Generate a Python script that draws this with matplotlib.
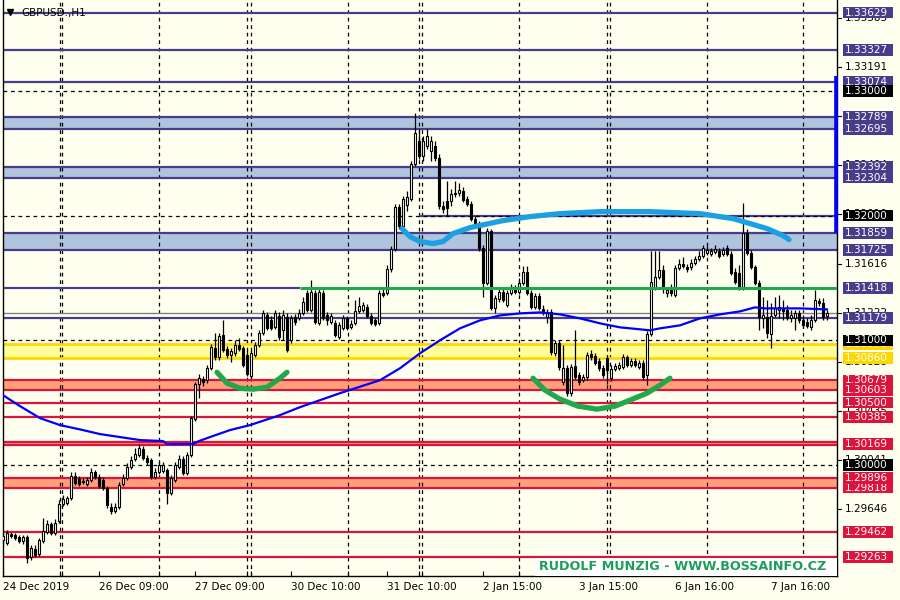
import matplotlib
matplotlib.use('Agg')
import matplotlib.pyplot as plt
import numpy as np
from matplotlib.transforms import blended_transform_factory
from matplotlib.patches import Rectangle

# ---------------- DATA ----------------
opens = [1.29400, 1.29376, 1.29448, 1.29440, 1.29424, 1.29392, 1.29424, 1.29264, 1.29328, 1.29288,
         1.29392, 1.29464, 1.29528, 1.29456, 1.29552, 1.29688, 1.29696, 1.29736, 1.29912, 1.29888,
         1.29872, 1.29848, 1.29880, 1.29944, 1.29904, 1.29880, 1.29816, 1.29664, 1.29632, 1.29664,
         1.29848, 1.29896, 1.29984, 1.30048, 1.30080, 1.30128, 1.30056, 1.30040, 1.29904, 1.29944,
         1.29952, 1.29960, 1.29776, 1.29880, 1.29984, 1.30048, 1.29936, 1.30080, 1.30368, 1.30648,
         1.30688, 1.30680, 1.30776, 1.30936, 1.30864, 1.31040, 1.30928, 1.30880, 1.30896, 1.30960,
         1.30936, 1.30880, 1.30712, 1.30880, 1.30960, 1.31056, 1.31200, 1.31160, 1.31104, 1.31192,
         1.31080, 1.31184, 1.31000, 1.31184, 1.31176, 1.31216, 1.31376, 1.31240, 1.31376, 1.31136,
         1.31376, 1.31200, 1.31144, 1.31136, 1.31024, 1.31096, 1.31176, 1.31104, 1.31136, 1.31232,
         1.31240, 1.31264, 1.31192, 1.31160, 1.31136, 1.31376, 1.31376, 1.31568, 1.31736, 1.32072,
         1.31920, 1.32088, 1.32136, 1.32416, 1.32600, 1.32480, 1.32560, 1.32520, 1.32560, 1.32464,
         1.32080, 1.32120, 1.32120, 1.32176, 1.32184, 1.32200, 1.32136, 1.32096, 1.31976, 1.31944,
         1.31744, 1.31456, 1.31880, 1.31256, 1.31328, 1.31384, 1.31280, 1.31376, 1.31416, 1.31384,
         1.31456, 1.31544, 1.31376, 1.31264, 1.31352, 1.31248, 1.31184, 1.31224, 1.30896, 1.30976,
         1.30664, 1.30776, 1.30576, 1.30792, 1.30720, 1.30680, 1.30704, 1.30888, 1.30872, 1.30832,
         1.30776, 1.30856, 1.30696, 1.30768, 1.30776, 1.30784, 1.30864, 1.30800, 1.30832, 1.30784,
         1.30816, 1.30720, 1.31048, 1.31416, 1.31504, 1.31560, 1.31376, 1.31416, 1.31360, 1.31576,
         1.31616, 1.31584, 1.31584, 1.31624, 1.31656, 1.31680, 1.31704, 1.31696, 1.31712, 1.31720,
         1.31696, 1.31744, 1.31696, 1.31544, 1.31536, 1.31424, 1.31864, 1.31704, 1.31584, 1.31456,
         1.31176, 1.31184, 1.31048, 1.31200, 1.31240, 1.31256, 1.31240, 1.31176, 1.31176, 1.31216,
         1.31160, 1.31144, 1.31104, 1.31160, 1.31312, 1.31296, 1.31192]

closes = [1.29432, 1.29456, 1.29432, 1.29416, 1.29392, 1.29424, 1.29256, 1.29336, 1.29280, 1.29400,
          1.29472, 1.29528, 1.29456, 1.29536, 1.29688, 1.29728, 1.29736, 1.29912, 1.29856, 1.29848,
          1.29864, 1.29880, 1.29944, 1.29904, 1.29832, 1.29816, 1.29680, 1.29632, 1.29664, 1.29840,
          1.29896, 1.29984, 1.30040, 1.30088, 1.30136, 1.30056, 1.30024, 1.29904, 1.29944, 1.30000,
          1.30000, 1.29776, 1.29896, 1.30000, 1.30048, 1.29936, 1.30080, 1.30376, 1.30648, 1.30696,
          1.30664, 1.30776, 1.30944, 1.30864, 1.31032, 1.30920, 1.30880, 1.30912, 1.30960, 1.30928,
          1.30800, 1.30728, 1.30896, 1.30960, 1.31056, 1.31216, 1.31096, 1.31096, 1.31216, 1.31024,
          1.31200, 1.30920, 1.31176, 1.31144, 1.31216, 1.31304, 1.31240, 1.31384, 1.31144, 1.31384,
          1.31176, 1.31160, 1.31192, 1.31040, 1.31120, 1.31176, 1.31096, 1.31128, 1.31232, 1.31272,
          1.31280, 1.31192, 1.31136, 1.31128, 1.31376, 1.31360, 1.31568, 1.31736, 1.32072, 1.31920,
          1.32136, 1.32152, 1.32416, 1.32664, 1.32480, 1.32600, 1.32640, 1.32600, 1.32464, 1.32080,
          1.32056, 1.32064, 1.32176, 1.32184, 1.32208, 1.32128, 1.32096, 1.31976, 1.31936, 1.31744,
          1.31456, 1.31880, 1.31256, 1.31336, 1.31384, 1.31320, 1.31376, 1.31416, 1.31384, 1.31456,
          1.31544, 1.31376, 1.31264, 1.31352, 1.31256, 1.31216, 1.31224, 1.30904, 1.30976, 1.30784,
          1.30776, 1.30576, 1.30784, 1.30704, 1.30664, 1.30704, 1.30880, 1.30864, 1.30816, 1.30776,
          1.30720, 1.30760, 1.30768, 1.30792, 1.30800, 1.30864, 1.30800, 1.30832, 1.30800, 1.30816,
          1.30704, 1.31048, 1.31464, 1.31504, 1.31560, 1.31416, 1.31400, 1.31376, 1.31576, 1.31616,
          1.31592, 1.31568, 1.31624, 1.31656, 1.31680, 1.31744, 1.31728, 1.31720, 1.31736, 1.31680,
          1.31728, 1.31696, 1.31536, 1.31464, 1.31424, 1.31864, 1.31704, 1.31584, 1.31456, 1.31184,
          1.31200, 1.31056, 1.31192, 1.31256, 1.31264, 1.31232, 1.31176, 1.31200, 1.31216, 1.31160,
          1.31120, 1.31112, 1.31160, 1.31320, 1.31296, 1.31184, 1.31216]

highs = [1.29456, 1.29480, 1.29464, 1.29456, 1.29440, 1.29440, 1.29440, 1.29360, 1.29360, 1.29416,
         1.29576, 1.29560, 1.29544, 1.29568, 1.29720, 1.29760, 1.29752, 1.29944, 1.29944, 1.29912,
         1.29896, 1.29904, 1.29976, 1.29960, 1.29928, 1.29904, 1.29832, 1.29696, 1.29696, 1.29864,
         1.29928, 1.30016, 1.30072, 1.30136, 1.30168, 1.30152, 1.30080, 1.30056, 1.29976, 1.30024,
         1.30024, 1.29976, 1.29920, 1.30024, 1.30080, 1.30072, 1.30104, 1.30392, 1.30664, 1.30728,
         1.30712, 1.30800, 1.30968, 1.31056, 1.31056, 1.31160, 1.30952, 1.30936, 1.31000, 1.31016,
         1.30952, 1.30920, 1.30920, 1.30984, 1.31080, 1.31240, 1.31224, 1.31192, 1.31240, 1.31224,
         1.31240, 1.31216, 1.31200, 1.31208, 1.31248, 1.31344, 1.31400, 1.31480, 1.31400, 1.31416,
         1.31400, 1.31224, 1.31216, 1.31160, 1.31144, 1.31200, 1.31192, 1.31160, 1.31320, 1.31344,
         1.31304, 1.31288, 1.31216, 1.31176, 1.31400, 1.31416, 1.31600, 1.31760, 1.32096, 1.32096,
         1.32160, 1.32200, 1.32440, 1.32824, 1.32696, 1.32640, 1.32696, 1.32640, 1.32600, 1.32496,
         1.32120, 1.32280, 1.32216, 1.32280, 1.32264, 1.32232, 1.32160, 1.32120, 1.32000, 1.31960,
         1.31768, 1.31904, 1.31896, 1.31360, 1.31416, 1.31416, 1.31400, 1.31448, 1.31440, 1.31496,
         1.31592, 1.31592, 1.31400, 1.31376, 1.31376, 1.31280, 1.31248, 1.31248, 1.31000, 1.31000,
         1.30960, 1.30800, 1.30808, 1.31080, 1.30744, 1.30728, 1.30904, 1.30920, 1.30896, 1.30856,
         1.30800, 1.30880, 1.30800, 1.30816, 1.30824, 1.30888, 1.30880, 1.30856, 1.30856, 1.30840,
         1.30840, 1.31072, 1.31720, 1.31720, 1.31720, 1.31600, 1.31424, 1.31448, 1.31600, 1.31656,
         1.31672, 1.31616, 1.31656, 1.31680, 1.31720, 1.31768, 1.31760, 1.31744, 1.31768, 1.31744,
         1.31752, 1.31768, 1.31720, 1.31576, 1.31600, 1.32104, 1.31896, 1.31728, 1.31608, 1.31480,
         1.31344, 1.31320, 1.31296, 1.31344, 1.31360, 1.31320, 1.31280, 1.31240, 1.31240, 1.31240,
         1.31200, 1.31176, 1.31200, 1.31400, 1.31336, 1.31336, 1.31240]

lows = [1.29376, 1.29360, 1.29416, 1.29400, 1.29376, 1.29368, 1.29216, 1.29240, 1.29264, 1.29272,
        1.29376, 1.29448, 1.29440, 1.29440, 1.29536, 1.29672, 1.29680, 1.29720, 1.29840, 1.29832,
        1.29848, 1.29832, 1.29864, 1.29888, 1.29816, 1.29800, 1.29656, 1.29608, 1.29616, 1.29648,
        1.29832, 1.29880, 1.29968, 1.30032, 1.30064, 1.30040, 1.30000, 1.29888, 1.29888, 1.29928,
        1.29936, 1.29688, 1.29760, 1.29864, 1.29968, 1.29920, 1.29920, 1.30064, 1.30352, 1.30536,
        1.30632, 1.30656, 1.30760, 1.30840, 1.30840, 1.30904, 1.30856, 1.30824, 1.30872, 1.30912,
        1.30784, 1.30712, 1.30696, 1.30864, 1.30944, 1.31040, 1.31080, 1.31080, 1.31088, 1.31000,
        1.31000, 1.30904, 1.30976, 1.31120, 1.31160, 1.31200, 1.31224, 1.31224, 1.31128, 1.31120,
        1.31160, 1.31120, 1.31128, 1.31024, 1.31008, 1.31080, 1.31080, 1.31088, 1.31120, 1.31216,
        1.31224, 1.31176, 1.31120, 1.31112, 1.31120, 1.31344, 1.31360, 1.31544, 1.31720, 1.31896,
        1.31904, 1.32040, 1.32120, 1.32400, 1.32456, 1.32440, 1.32536, 1.32440, 1.32440, 1.32056,
        1.32024, 1.32000, 1.32080, 1.32152, 1.32160, 1.32112, 1.32080, 1.31960, 1.31920, 1.31720,
        1.31344, 1.31440, 1.31240, 1.31216, 1.31304, 1.31304, 1.31264, 1.31360, 1.31368, 1.31368,
        1.31440, 1.31360, 1.31248, 1.31248, 1.31240, 1.31200, 1.31136, 1.30880, 1.30872, 1.30760,
        1.30640, 1.30552, 1.30552, 1.30688, 1.30640, 1.30664, 1.30680, 1.30840, 1.30800, 1.30752,
        1.30696, 1.30648, 1.30672, 1.30752, 1.30760, 1.30768, 1.30784, 1.30784, 1.30784, 1.30768,
        1.30680, 1.30640, 1.31032, 1.31400, 1.31488, 1.31376, 1.31344, 1.31352, 1.31344, 1.31560,
        1.31576, 1.31544, 1.31560, 1.31608, 1.31640, 1.31664, 1.31688, 1.31680, 1.31696, 1.31664,
        1.31680, 1.31680, 1.31520, 1.31448, 1.31400, 1.31400, 1.31688, 1.31568, 1.31440, 1.31080,
        1.31096, 1.31016, 1.30936, 1.31184, 1.31176, 1.31160, 1.31160, 1.31144, 1.31080, 1.31136,
        1.31104, 1.31096, 1.31080, 1.31144, 1.31272, 1.31160, 1.31160]

# moving average
ma_bars = [0, 4.25, 9.25, 14.25, 20, 24.25, 29.25, 34.25, 40, 41, 47.5, 49, 51.75, 56.75, 61.75,
           65.5, 69.25, 74.25, 84.25, 94.25, 99.25, 104.25, 109.25, 114.25, 119.25, 124.25, 129.25,
           134.25, 139.25, 144.25, 149.25, 154.25, 159.25, 161.75, 164.25, 169.25, 174.25, 179.25,
           184.25, 188, 190.5, 199.25, 206]
ma_vals = [1.30560, 1.30472, 1.30376, 1.30320, 1.30280, 1.30248, 1.30224, 1.30200, 1.30192, 1.30168,
           1.30168, 1.30192, 1.30224, 1.30280, 1.30320, 1.30360, 1.30400, 1.30464, 1.30576, 1.30680,
           1.30776, 1.30896, 1.31000, 1.31096, 1.31160, 1.31200, 1.31216, 1.31224, 1.31208, 1.31176,
           1.31136, 1.31104, 1.31088, 1.31080, 1.31096, 1.31120, 1.31176, 1.31208, 1.31232, 1.31264,
           1.31256, 1.31256, 1.31248]

# hand-drawn annotation curves
blue_arc_bars = [99.75, 101.75, 104.25, 107.5, 110, 112.5, 116.75, 125, 131.75, 139.25, 149.25,
                 161.75, 174.25, 182.5, 186.75, 191, 195, 196.5]
blue_arc_vals = [1.31896, 1.31832, 1.31792, 1.31776, 1.31792, 1.31856, 1.31904, 1.31960, 1.31992,
                 1.32016, 1.32032, 1.32032, 1.32016, 1.31976, 1.31936, 1.31896, 1.31840, 1.31808]
green_arc1_bars = [53.5, 56, 59.25, 62.5, 66, 69.25, 71]
green_arc1_vals = [1.30744, 1.30656, 1.30616, 1.30608, 1.30624, 1.30696, 1.30744]
green_arc2_bars = [132.5, 135.5, 139.25, 143.75, 148.5, 153, 156.75, 161, 164.25, 166.75]
green_arc2_vals = [1.30696, 1.30600, 1.30528, 1.30472, 1.30448, 1.30472, 1.30520, 1.30576,
                   1.30640, 1.30696]

# levels
navy_lines = [1.33629, 1.33327, 1.33074, 1.31179]
navy_bands = [(1.32789, 1.32695), (1.32392, 1.32304), (1.31859, 1.31725)]
red_lines = [1.30500, 1.30385, 1.29462, 1.29263]
red_bands = [(1.30679, 1.30603), (1.30182, 1.30158), (1.29896, 1.29818)]
gold_band = (1.30970, 1.30860)
round_levels = [1.33000, 1.32000, 1.31000, 1.30000]
green_level = 1.31418
bid_price = 1.31216

grid_labels = [1.33585, 1.33191, 1.32797, 1.32404, 1.32010, 1.31616, 1.31222,
               1.30828, 1.30435, 1.30041, 1.29646]
# (value, style) in drawing order
price_labels = [(1.33629, 'navy'), (1.33327, 'navy'), (1.33074, 'navy'), (1.33000, 'black'),
                (1.32789, 'navy'), (1.32695, 'navy'), (1.32392, 'navy'), (1.32304, 'navy'),
                (1.32000, 'black'), (1.31859, 'navy'), (1.31725, 'navy'), (1.31418, 'navy'),
                (1.31179, 'navy'), (1.30970, 'gold'), (1.31000, 'black'), (1.30860, 'gold'),
                (1.30679, 'red'), (1.30603, 'red'), (1.30500, 'red'), (1.30385, 'red'),
                (1.30169, 'red'), (1.29818, 'red'), (1.29896, 'red'), (1.30000, 'black'),
                (1.29462, 'red'), (1.29263, 'red')]

time_ticks = [0, 24, 48, 72, 96, 120, 144, 168, 192]
time_labels = ['24 Dec 2019', '26 Dec 09:00', '27 Dec 09:00', '30 Dec 10:00', '31 Dec 10:00',
               '2 Jan 15:00', '3 Jan 15:00', '6 Jan 16:00', '7 Jan 16:00']
separators = [14.25, 14.75, 39, 61, 62, 86.25, 104, 104.75, 129, 151, 151.75, 176, 200]

# ---------------- STYLE ----------------
BG = '#FFFFF0'
NAVY = '#483D8B'
BAND_BLUE = '#B0C4DE'
RED = '#DC143C'
SALMON = '#FFA07A'
GOLD = '#FFD700'
PALE_YEL = '#FFFF99'
GREEN = '#22A84C'
ARC_BLUE = '#1BA1E2'
MA_BLUE = '#0000FF'
box_col = {'navy': NAVY, 'black': 'black', 'gold': GOLD, 'red': RED}

fig = plt.figure(figsize=(9, 6), dpi=100, facecolor=BG)
ax = fig.add_axes([3 / 900, 24 / 600, 834 / 900, 576 / 600])
ax.set_facecolor(BG)
XMAX = 208.5
px = 0.0000802  # price per pixel
ax.set_xlim(0, XMAX)
ax.set_ylim(1.30 - 111 * px, 1.30 + 465 * px)

# bands
for hi, lo in navy_bands:
    ax.axhspan(lo, hi, color=BAND_BLUE, zorder=1, lw=0)
    ax.axhline(hi, color=NAVY, lw=1.6, zorder=2)
    ax.axhline(lo, color=NAVY, lw=1.6, zorder=2)
for hi, lo in red_bands:
    ax.axhspan(lo, hi, color=SALMON, zorder=1, lw=0)
    ax.axhline(hi, color=RED, lw=1.6, zorder=2)
    ax.axhline(lo, color=RED, lw=1.6, zorder=2)
ax.axhspan(gold_band[1], gold_band[0], color=PALE_YEL, zorder=1, lw=0)
ax.axhline(gold_band[0], color=GOLD, lw=2.0, zorder=2)
ax.axhline(gold_band[1], color=GOLD, lw=2.0, zorder=2)

for v in navy_lines:
    ax.axhline(v, color=NAVY, lw=1.6, zorder=2)
for v in red_lines:
    ax.axhline(v, color=RED, lw=1.6, zorder=2)

ax.hlines(round_levels[1], 104, XMAX, color=NAVY, lw=1.6, zorder=2)
for v in round_levels:
    ax.axhline(v, color='black', lw=0.9, ls=(0, (3, 3)), zorder=2.1)

for s in separators:
    ax.axvline(s, color='black', lw=0.9, ls=(0, (3, 3)), zorder=1.5)

ax.hlines(green_level, 0, 74.25, color=NAVY, lw=1.6, zorder=2)
ax.axhline(bid_price, color='#808080', lw=1.0, zorder=2)

# candles
o = np.array(opens); c = np.array(closes); h = np.array(highs); l = np.array(lows)
xs = np.arange(len(c))
h2 = np.maximum(h, np.maximum(o, c)); l2 = np.minimum(l, np.minimum(o, c))
ax.vlines(xs, l2, h2, color='black', lw=0.9, zorder=3)
bottoms = np.minimum(o, c)
heights = np.maximum(np.abs(c - o), 0.00003)
cols = ['white' if cc >= oo else 'black' for oo, cc in zip(o, c)]
ax.bar(xs, heights, bottom=bottoms, width=0.5, color=cols, edgecolor='black',
       linewidth=0.8, zorder=3.5)

# moving average
ax.plot(ma_bars, ma_vals, color=MA_BLUE, lw=1.6, zorder=4, solid_joinstyle='round')

# green level line (over candles)
ax.hlines(green_level, 74.25, XMAX, color=GREEN, lw=2.2, zorder=4.5)

# annotation arcs
kw = dict(lw=3.8, solid_capstyle='round', solid_joinstyle='round', zorder=5)
ax.plot(blue_arc_bars, blue_arc_vals, color=ARC_BLUE, **kw)
ax.plot(green_arc1_bars, green_arc1_vals, color=GREEN, **kw)
ax.plot(green_arc2_bars, green_arc2_vals, color=GREEN, **kw)

# spines & ticks
for side in ['left', 'bottom', 'right']:
    ax.spines[side].set_color('black')
    ax.spines[side].set_linewidth(1.0)
ax.spines['top'].set_visible(False)
ax.set_yticks([])
ax.set_xticks(time_ticks + separators)
ax.set_xticklabels([])
ax.tick_params(axis='x', direction='in', length=3.5, width=0.8, color='black')

tx = blended_transform_factory(ax.transData, ax.transAxes)
for t, lab in zip(time_ticks, time_labels):
    ax.text(t, -11 / 576, lab, transform=tx, ha='left', va='center', fontsize=7.5,
            color='black', clip_on=False)

# right price labels
ty = blended_transform_factory(ax.transAxes, ax.transData)
x0 = (843 - 3) / 834
bw = 50 / 834
bh = 11.5 * px
xt = (845 - 3) / 834
for v in grid_labels:
    ax.plot([1.0, 1.0 + 4 / 834], [v, v], transform=ty, color='black', lw=0.8, clip_on=False, zorder=8)
    ax.text(xt, v, f'{v:.5f}', transform=ty, fontsize=7.5, color='black', va='center',
            ha='left', clip_on=False, zorder=8)
z = 10
for v, st in price_labels:
    ax.add_patch(Rectangle((x0, v - bh / 2), bw, bh, transform=ty, fc=box_col[st], ec='none',
                           clip_on=False, zorder=z))
    ax.text(xt, v, f'{v:.5f}', transform=ty, fontsize=7.5, color='white', va='center',
            ha='left', clip_on=False, zorder=z + 0.5)
    z += 1

# blue marker bar on the price scale
ax.plot([(835.5 - 3) / 834] * 2, [1.33120, 1.31864], transform=ty, color=MA_BLUE, lw=2.6,
        clip_on=False, zorder=9, solid_capstyle='butt')

# title
ax.plot([(10 - 3) / 834], [1 - 12 / 576], transform=ax.transAxes, marker='v', color='black',
        markersize=5, zorder=12)
ax.text((21 - 3) / 834, 1 - 13 / 576, 'GBPUSD.,H1', transform=ax.transAxes, fontsize=7.5,
        color='black', va='center', ha='left', zorder=12)

# watermark
ax.add_patch(Rectangle(((535 - 3) / 834, 0.0), (834 - 532) / 834, 18 / 576,
                       transform=ax.transAxes, fc='white', ec='none', zorder=6))
ax.text((683 - 3) / 834, 9 / 576, 'RUDOLF MUNZIG - WWW.BOSSAINFO.CZ', transform=ax.transAxes,
        fontsize=9.2, fontweight='bold', color='#1E9E5A', ha='center', va='center', zorder=7)

fig.savefig('out.png', dpi=100, facecolor=BG)
